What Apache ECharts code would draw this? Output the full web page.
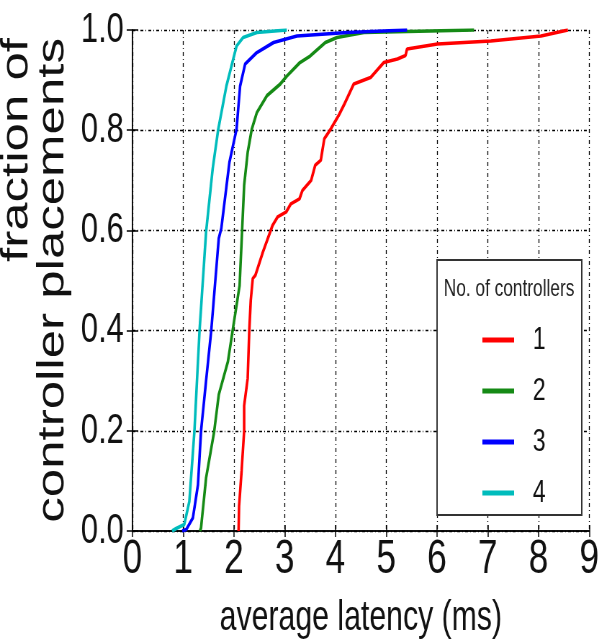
<!DOCTYPE html>
<html>
<head>
<meta charset="utf-8">
<script src="https://cdn.jsdelivr.net/npm/echarts@6/dist/echarts.min.js"></script>
<style>
  html, body { margin: 0; padding: 0; background: #fff; overflow: hidden; }
  /* the original figure is squeezed horizontally, so the chart is drawn wider and squeezed back */
  #chart { width: 835px; height: 644px; transform: scaleX(0.72); transform-origin: 0 0; }
</style>
</head>
<body>
<div id="chart"></div>
<script>
// CDF of average latency (ms) per number of controllers
var xTicks = [0, 1, 2, 3, 4, 5, 6, 7, 8, 9];
var yTicks = [0, 0.2, 0.4, 0.6, 0.8, 1.0];
var seriesNames = ['1', '2', '3', '4'];

var ctrl1 = [
  [2.09, 0.0], [2.1, 0.05], [2.15, 0.12], [2.2, 0.2], [2.2, 0.25], [2.27, 0.305],
  [2.3, 0.398], [2.33, 0.46], [2.37, 0.504], [2.42, 0.51], [2.57, 0.557], [2.76, 0.61],
  [2.86, 0.627], [3.03, 0.637], [3.12, 0.653], [3.29, 0.663], [3.35, 0.68], [3.52, 0.70],
  [3.6, 0.73], [3.71, 0.74], [3.78, 0.783], [3.91, 0.803], [4.06, 0.829], [4.16, 0.849],
  [4.36, 0.892], [4.69, 0.905], [4.95, 0.935], [5.22, 0.942], [5.38, 0.949], [5.41, 0.962],
  [6.01, 0.972], [7.06, 0.978], [8.05, 0.988], [8.58, 1.0]
];
var ctrl2 = [
  [1.33, 0.0], [1.35, 0.006], [1.45, 0.106], [1.61, 0.199], [1.7, 0.272], [1.88, 0.338],
  [1.97, 0.398], [2.11, 0.49], [2.16, 0.6], [2.2, 0.69], [2.27, 0.756], [2.35, 0.802],
  [2.45, 0.835], [2.65, 0.869], [2.91, 0.892], [3.04, 0.908], [3.3, 0.935], [3.5, 0.948],
  [3.8, 0.975], [4.03, 0.985], [4.56, 0.995], [6.73, 1.0]
];
var ctrl3 = [
  [0.98, 0.0], [1.06, 0.003], [1.19, 0.026], [1.29, 0.092], [1.35, 0.199], [1.45, 0.3],
  [1.55, 0.398], [1.7, 0.584], [1.75, 0.604], [1.91, 0.736], [2.05, 0.802], [2.12, 0.888],
  [2.22, 0.932], [2.45, 0.955], [2.78, 0.975], [3.24, 0.988], [4.23, 0.995], [5.41, 1.0]
];
var ctrl4 = [
  [0.78, 0.0], [0.86, 0.005], [1.02, 0.013], [1.12, 0.059], [1.22, 0.199], [1.32, 0.398],
  [1.45, 0.597], [1.58, 0.723], [1.69, 0.802], [1.85, 0.888], [2.05, 0.968], [2.18, 0.985],
  [2.45, 0.995], [3.04, 1.0]
];
var colors = ['#ff0000', '#158a15', '#0000ff', '#00bcbc'];

var chart = echarts.init(document.getElementById('chart'));
var font = '"Liberation Sans", Arial, sans-serif';
var gridDash = { color: '#000', width: 1.3, type: [4, 3, 1, 3] };
var tickStyle = { color: '#000', width: 1.5 };

function makeSeries(name, data, i) {
  return {
    name: name,
    type: 'line',
    data: data,
    showSymbol: false,
    lineStyle: { color: colors[i], width: 3.6 },
    itemStyle: { color: colors[i] },
    z: 3
  };
}

var option = {
  animation: false,
  grid: { left: 184, right: 15, top: 30, bottom: 111 },
  xAxis: [{
    type: 'value', min: 0, max: 9, interval: 1,
    name: 'average latency (ms)', nameLocation: 'middle', nameGap: 66,
    nameTextStyle: { fontFamily: font, fontSize: 42, color: '#111' },
    axisLine: { lineStyle: { color: '#000', width: 1.5 } },
    axisTick: { inside: true, length: 6, lineStyle: tickStyle },
    axisLabel: { fontFamily: font, fontSize: 49, color: '#111', margin: 4,
      formatter: function (v) { return xTicks.indexOf(v) >= 0 ? String(v) : ''; } },
    splitLine: { show: true, lineStyle: gridDash }
  }, {
    type: 'value', min: 0, max: 9, interval: 1, position: 'top',
    axisLine: { show: true, lineStyle: { color: '#000', width: 1.5 } },
    axisTick: { show: true, inside: true, length: 6, lineStyle: tickStyle },
    axisLabel: { show: false }, splitLine: { show: false }
  }],
  yAxis: [{
    type: 'value', min: 0, max: 1, interval: 0.2,
    axisLine: { show: true, lineStyle: { color: '#000', width: 1.5 } },
    axisTick: { show: true, inside: true, length: 8, lineStyle: tickStyle },
    axisLabel: { fontFamily: font, fontSize: 43, color: '#111', margin: 12,
      formatter: function (v) { return v.toFixed(1); } },
    splitLine: { show: true, lineStyle: gridDash }
  }, {
    type: 'value', min: 0, max: 1, interval: 0.2, position: 'right',
    axisLine: { show: true, lineStyle: { color: '#000', width: 1.5 } },
    axisTick: { show: true, inside: true, length: 8, lineStyle: tickStyle },
    axisLabel: { show: false }, splitLine: { show: false }
  }],
  legend: {
    orient: 'vertical', left: 665, top: 319,
    data: seriesNames,
    icon: 'rect', itemWidth: 44, itemHeight: 5, itemGap: 19,
    textStyle: { fontFamily: font, fontSize: 32, color: '#111', padding: [0, 0, 0, 21] },
    z: 7
  },
  graphic: [{
    type: 'rect', z: 5,
    shape: { x: 607, y: 260, width: 201, height: 255 },
    style: { fill: '#fff', stroke: '#333', lineWidth: 2 }
  }, {
    type: 'text', z: 6, x: 707, y: 289,
    style: { text: 'No. of controllers', fontFamily: font, fontSize: 24, fill: '#222',
      textAlign: 'center', textVerticalAlign: 'middle' }
  }, {
    type: 'text', z: 6, x: 49, y: 38, rotation: Math.PI / 2,
    style: { text: 'fraction of\ncontroller placements', fontFamily: font, fontSize: 51,
      lineHeight: 50, fill: '#111', textAlign: 'right', textVerticalAlign: 'middle' }
  }],
  series: [
    makeSeries(seriesNames[0], ctrl1, 0),
    makeSeries(seriesNames[1], ctrl2, 1),
    makeSeries(seriesNames[2], ctrl3, 2),
    makeSeries(seriesNames[3], ctrl4, 3)
  ]
};
chart.setOption(option);
</script>
</body>
</html>
